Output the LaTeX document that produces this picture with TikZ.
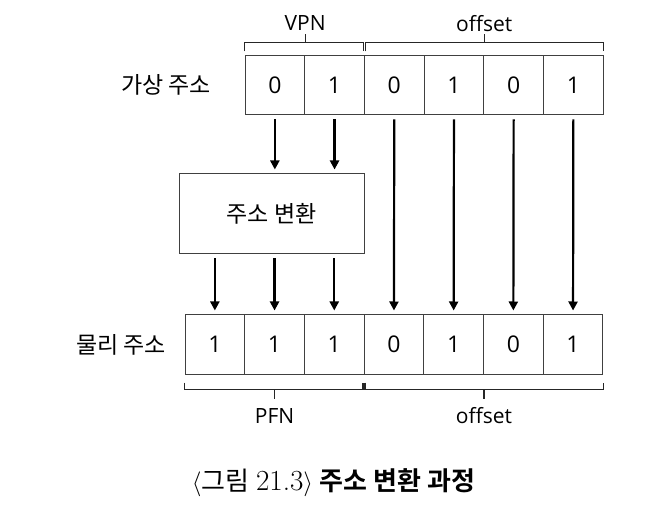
\documentclass[tikz,border=0pt]{standalone}
\usepackage{fontspec}
\setmainfont{Open Sans}
\newfontfamily\kr{Noto Sans CJK KR}
\newfontfamily\krb{Noto Sans CJK KR}[BoldFont={Noto Sans CJK KR Bold}]
\newfontfamily\lmr{Latin Modern Roman}[Scale=1.12]
\usetikzlibrary{arrows.meta,calc}
\begin{document}
\begin{tikzpicture}[x=1pt,y=-1pt,
  cell/.style={draw=black!75,line width=1pt,minimum width=59.7pt,minimum height=59pt,inner sep=0pt,font=\fontsize{23}{23}\selectfont},
  lbl/.style={font=\kr\fontsize{23}{23}\selectfont,inner sep=0pt},
  txt/.style={font=\fontsize{21}{21}\selectfont,inner sep=0pt},
  brk/.style={draw=black!85,line width=1.4pt},
  arr/.style={draw=black,line width=2.2pt,-{Triangle[length=9pt,width=9pt]},shorten <=4pt,shorten >=4pt}]
\useasboundingbox (0,0) rectangle (650,526);
% top row
\foreach \v [count=\i] in {0,1,0,1,0,1}
  \node[cell] (t\i) at ({245+59.7*(\i-0.5)},85.5) {\v};
% bottom row
\foreach \v [count=\i] in {1,1,1,0,1,0,1}
  \node[cell] (b\i) at ({185+59.7*(\i-0.5)},344.5) {\v};
% translation box
\node[draw=black!75,line width=1pt,minimum width=185pt,minimum height=80pt,inner sep=0pt,font=\kr\fontsize{23}{23}\selectfont] (box) at (271.5,214) {주소 변환};
% labels
\node[lbl] (va) at (166,85) {가상 주소};
\node[lbl] (pa) at (121,345) {물리 주소};
% top braces
\draw[brk] ($(t1.north west)+(0,-4)$) -- ($(t1.north west)+(0,-13)$) -- ($(t2.north east)+(-1.5,-13)$) -- ($(t2.north east)+(-1.5,-4)$);
\draw[brk] ($(t1.north east)+(0,-13)$) -- ($(t1.north east)+(0,-21)$) coordinate (vpntip);
\draw[brk] ($(t3.north west)+(1.5,-4)$) -- ($(t3.north west)+(1.5,-13)$) -- ($(t6.north east)+(0,-13)$) -- ($(t6.north east)+(0,-4)$);
\draw[brk] ($(t4.north east)+(0,-13)$) -- ($(t4.north east)+(0,-21)$) coordinate (offtip);
\node[txt] (vpn) at ($(vpntip)+(0,-11)$) {VPN};
\node[txt] (off1) at ($(offtip)+(0,-11)$) {offset};
% bottom braces
\draw[brk] ($(b1.south west)+(0,8)$) -- ($(b1.south west)+(0,15)$) -- ($(b3.south east)+(-1.5,15)$) -- ($(b3.south east)+(-1.5,8)$);
\draw[brk] ($(b2.south)+(0,15)$) -- ($(b2.south)+(0,24)$) coordinate (pfntip);
\draw[brk] ($(b4.south west)+(1.5,8)$) -- ($(b4.south west)+(1.5,15)$) -- ($(b7.south east)+(0,15)$) -- ($(b7.south east)+(0,8)$);
\draw[brk] ($(b5.south east)+(0,15)$) -- ($(b5.south east)+(0,24)$) coordinate (offtipb);
\node[txt] (pfn) at (pfntip |- 0,416) {PFN};
\node[txt] (off2) at (offtipb |- 0,416) {offset};
% arrows
\draw[arr] (t1.south) -- (t1.south |- box.north);
\draw[arr] (t2.south) -- (t2.south |- box.north);
\draw[arr] (box.south -| b1) -- (b1.north);
\draw[arr] (box.south -| b2) -- (b2.north);
\draw[arr] (box.south -| b3) -- (b3.north);
\draw[arr] (t3.south) -- (b4.north);
\draw[arr] (t4.south) -- (b5.north);
\draw[arr] (t5.south) -- (b6.north);
\draw[arr] (t6.south) -- (b7.north);
% caption
\node[inner sep=0pt,font=\fontsize{26}{26}\selectfont] (cap) at (333.5,483) {{\lmr$\langle$}{\kr 그림} {\lmr 21.3$\rangle$} {\krb\bfseries 주소 변환 과정}};
\end{tikzpicture}
\end{document}
